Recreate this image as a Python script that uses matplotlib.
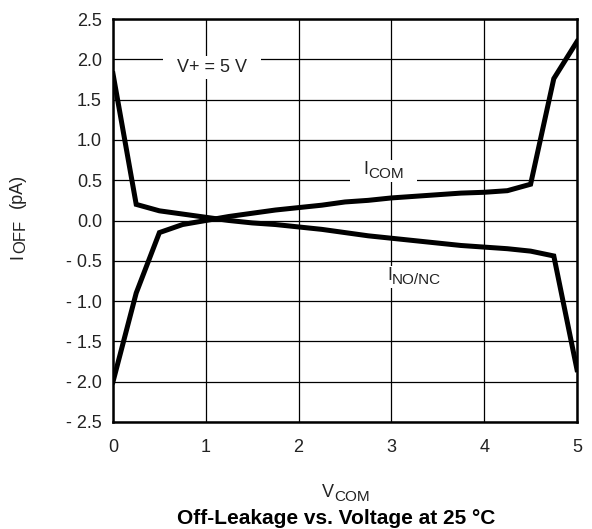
import matplotlib
matplotlib.use("Agg")
import matplotlib.pyplot as plt
from matplotlib.patches import Rectangle
from matplotlib.transforms import Bbox, IdentityTransform

plt.rcParams['font.family'] = ['Liberation Sans', 'DejaVu Sans']

# V_COM sweep (V) and off-leakage currents (pA)
v_com = [0.0, 0.25, 0.5, 0.75, 1.0, 1.25, 1.5, 1.75, 2.0, 2.25, 2.5,
         2.75, 3.0, 3.25, 3.5, 3.75, 4.0, 4.25, 4.5, 4.75, 5.0]
i_com = [-2.0, -0.9, -0.15, -0.05, 0.0, 0.05, 0.09, 0.13, 0.16, 0.19, 0.23,
         0.25, 0.28, 0.30, 0.32, 0.34, 0.35, 0.37, 0.45, 1.76, 2.22]
i_no_nc = [1.82, 0.20, 0.12, 0.08, 0.04, 0.0, -0.03, -0.05, -0.08, -0.11, -0.15,
           -0.19, -0.22, -0.25, -0.28, -0.31, -0.33, -0.35, -0.38, -0.44, -1.85]

y_ticks = [-2.5, -2.0, -1.5, -1.0, -0.5, 0.0, 0.5, 1.0, 1.5, 2.0, 2.5]
y_labels = ["- 2.5", "- 2.0", "- 1.5", "- 1.0", "- 0.5", "0.0",
            "0.5", "1.0", "1.5", "2.0", "2.5"]
x_ticks = [0, 1, 2, 3, 4, 5]

W, H = 592, 529
TXT = '#222222'

fig = plt.figure(figsize=(W / 100, H / 100), dpi=100)
ax = fig.add_axes([113 / W, 1 - 422 / H, (577 - 113) / W, (422 - 19) / H])
renderer = fig.canvas.get_renderer()

ax.plot(v_com, i_com, color='black', lw=3.6, solid_joinstyle='miter', zorder=5)
ax.plot(v_com, i_no_nc, color='black', lw=3.6, solid_joinstyle='miter', zorder=5)

ax.set_xlim(0, 5)
ax.set_ylim(-2.5, 2.5)
ax.set_xticks(x_ticks)
ax.set_yticks(y_ticks)
ax.set_yticklabels(y_labels)
ax.grid(True, color='black', lw=0.9)
ax.tick_params(length=0, labelsize=13, colors=TXT)
ax.tick_params(axis='y', pad=8)
ax.tick_params(axis='x', pad=12)
for s in ax.spines.values():
    s.set_linewidth(1.8)


def white_box(texts, padx, pady):
    # white rectangle behind a group of texts, hiding the grid there
    bb = Bbox.union([t.get_window_extent(renderer) for t in texts])
    ax.add_patch(Rectangle((bb.x0 - padx, bb.y0 - pady), bb.width + 2 * padx,
                           bb.height + 2 * pady, facecolor='white', edgecolor='none',
                           transform=IdentityTransform(), zorder=2.5, clip_on=False))


def sub_text(x, y, main, sub, transform, size=13, subsize=11, drop=3):
    # main letter with a larger-than-mathtext subscript next to it
    t = ax.text(x, y, main, transform=transform, fontsize=size, ha='left',
                va='baseline', color=TXT, clip_on=False, zorder=3)
    w = t.get_window_extent(renderer).width * 72 / fig.dpi
    s = ax.annotate(sub, xy=(x, y), xycoords=transform, xytext=(w, -drop),
                    textcoords='offset points', fontsize=subsize, ha='left',
                    va='baseline', color=TXT, zorder=3, annotation_clip=False)
    return [t, s]


vplus = ax.text(1.067, 1.90, "V+ = 5 V", fontsize=13, ha='center', va='center',
                color=TXT, zorder=3)
white_box([vplus], 14, 3)
white_box(sub_text(2.694, 0.577, "I", "COM", ax.transData), 13, 1)
white_box(sub_text(2.953, -0.74, "I", "NO/NC", ax.transData), 13, 1)

# x axis label
sub_text(322 / W, 1 - 497 / H, "V", "COM", fig.transFigure)

# y axis label (rotated pieces)
fig.text(22 / W, 1 - 259 / H, "I", rotation=90, rotation_mode='anchor',
         fontsize=13, ha='left', va='baseline', color=TXT)
fig.text(25 / W, 1 - 253 / H, "OFF", rotation=90, rotation_mode='anchor',
         fontsize=12, ha='left', va='baseline', color=TXT)
fig.text(22 / W, 1 - 208 / H, "(pA)", rotation=90, rotation_mode='anchor',
         fontsize=13, ha='left', va='baseline', color=TXT)

fig.text(336 / W, 1 - 524 / H, "Off-Leakage vs. Voltage at 25 °C", fontsize=15,
         fontweight='bold', ha='center', va='baseline', color='black')

fig.savefig("out.png", dpi=100)
